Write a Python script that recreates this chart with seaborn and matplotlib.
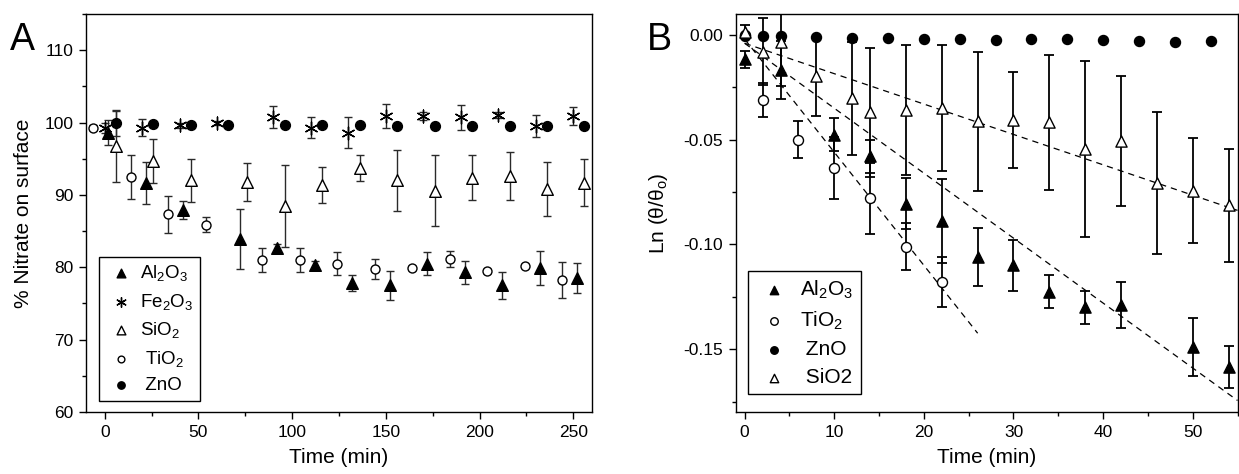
import numpy as np
import pandas as pd
import matplotlib
matplotlib.use("Agg")
import matplotlib.pyplot as plt
from matplotlib.ticker import MultipleLocator
import seaborn as sns

# Panel A: % nitrate left on the surface vs time (min)
al_t = [2, 22, 42, 72, 92, 112, 132, 152, 172, 192, 212, 232, 252]
al_y = [98.6, 91.7, 87.9, 83.9, 82.6, 80.3, 77.8, 77.5, 80.5, 79.3, 77.5, 79.9, 78.5]
al_e = [1.7, 2.9, 1.2, 4.1, 0.6, 0.6, 1.1, 2.0, 1.6, 1.6, 1.9, 2.3, 2.1]

fe_t = [0, 20, 40, 60, 90, 110, 130, 150, 170, 190, 210, 230, 250]
fe_y = [99.2, 99.3, 99.6, 99.9, 100.8, 99.3, 98.6, 100.9, 100.9, 100.7, 101.0, 99.5, 100.9]
fe_e = [0.7, 1.2, 0.3, 0.3, 1.5, 1.5, 2.1, 1.6, 0.5, 1.7, 0.4, 1.5, 1.2]

si_t = [6, 26, 46, 76, 96, 116, 136, 156, 176, 196, 216, 236, 256]
si_y = [96.7, 94.7, 92.0, 91.8, 88.5, 91.4, 93.7, 92.0, 90.6, 92.4, 92.6, 90.8, 91.7]
si_e = [4.9, 3.0, 3.0, 2.6, 5.7, 2.5, 1.8, 4.2, 4.9, 3.1, 3.3, 3.7, 3.3]

ti_t = [-6, 14, 34, 54, 84, 104, 124, 144, 164, 184, 204, 224, 244]
ti_y = [99.3, 92.5, 87.3, 85.9, 81.0, 81.0, 80.5, 79.8, 79.9, 81.1, 79.5, 80.2, 78.2]
ti_e = [0.3, 3.0, 2.6, 1.0, 1.6, 1.6, 1.6, 1.4, 0.3, 1.1, 0.3, 0.2, 2.5]

zn_t = [6, 26, 46, 66, 96, 116, 136, 156, 176, 196, 216, 236, 256]
zn_y = [99.9, 99.8, 99.7, 99.6, 99.6, 99.6, 99.6, 99.5, 99.5, 99.5, 99.5, 99.5, 99.5]
zn_e = [1.8, 0.2, 0.2, 0.2, 0.2, 0.2, 0.2, 0.2, 0.2, 0.2, 0.2, 0.2, 0.2]

# Panel B: Ln(theta/theta_o) vs time (min)
b_al_t = [0, 4, 10, 14, 18, 22, 26, 30, 34, 38, 42, 50, 54]
b_al_y = [-0.0116, -0.0167, -0.0476, -0.058, -0.0805, -0.0889, -0.106, -0.110, -0.1225,
          -0.130, -0.129, -0.149, -0.1587]
b_al_e = [0.004, 0.014, 0.008, 0.008, 0.012, 0.020, 0.014, 0.012, 0.008, 0.008, 0.011, 0.014, 0.010]

b_ti_t = [0, 2, 6, 10, 14, 18, 22]
b_ti_y = [0.0, -0.031, -0.050, -0.0635, -0.078, -0.101, -0.1178]
b_ti_e = [0.0, 0.008, 0.0087, 0.015, 0.017, 0.011, 0.012]

b_zn_t = [0, 2, 4, 8, 12, 16, 20, 24, 28, 32, 36, 40, 44, 48, 52]
b_zn_y = [-0.0005, -0.0005, -0.0005, -0.001, -0.0014, -0.0014, -0.0019, -0.0019, -0.0024,
          -0.0021, -0.0019, -0.0024, -0.0027, -0.0032, -0.003]

b_si_t = [0, 2, 4, 8, 12, 14, 18, 22, 26, 30, 34, 38, 42, 46, 50, 54]
b_si_y = [0.0016, -0.008, -0.0032, -0.0198, -0.0302, -0.037, -0.0357, -0.0349, -0.0413,
          -0.0405, -0.0418, -0.0543, -0.0505, -0.0706, -0.0743, -0.0814]
b_si_e = [0.003, 0.016, 0.021, 0.019, 0.027, 0.031, 0.031, 0.030, 0.033, 0.023, 0.032,
          0.042, 0.031, 0.034, 0.025, 0.027]

# linear fits drawn as dashed lines (TiO2, Al2O3, SiO2)
fit_slope = [-0.0054, -0.0031, -0.00145]
fit_icpt = [-0.002, -0.004, -0.004]
fit_tmax = [26, 55, 55]

sns.set_style("ticks")
plt.rcParams["font.family"] = ["Liberation Sans", "DejaVu Sans"]
plt.rcParams["mathtext.default"] = "regular"
plt.rcParams["axes.linewidth"] = 1.0
plt.rcParams["axes.edgecolor"] = "black"
plt.rcParams["text.color"] = "black"
plt.rcParams["axes.labelcolor"] = "black"
plt.rcParams["xtick.color"] = "black"
plt.rcParams["ytick.color"] = "black"

fig = plt.figure(figsize=(12.39, 4.74), dpi=100)
axA = fig.add_axes([0.0694, 0.1308, 0.4084, 0.8397])
axB = fig.add_axes([0.5938, 0.1308, 0.4050, 0.8397])


def series(ax, t, y, e, marker, face, s, label, ecol, elw, cap):
    if e is not None:
        ax.errorbar(t, y, yerr=e, fmt="none", ecolor=ecol, elinewidth=elw,
                    capsize=cap, capthick=elw, zorder=2)
    if face is None:
        sns.scatterplot(x=t, y=y, marker=marker, s=s, color="black",
                        linewidth=1.0, label=label, ax=ax, zorder=3)
    else:
        sns.scatterplot(x=t, y=y, marker=marker, s=s, color=face,
                        edgecolor="black", linewidth=1.0, label=label, ax=ax, zorder=3)


# ---- Panel A ----
ec = "#2a2a2a"
series(axA, al_t, al_y, al_e, "^", "black", 70, "Al$_2$O$_3$", ec, 1.0, 3)
series(axA, fe_t, fe_y, fe_e, (6, 2, 0), None, 85, "Fe$_2$O$_3$", ec, 1.0, 3)
series(axA, si_t, si_y, si_e, "^", "white", 70, "SiO$_2$", ec, 1.0, 3)
series(axA, ti_t, ti_y, ti_e, "o", "white", 42, " TiO$_2$", ec, 1.0, 3)
series(axA, zn_t, zn_y, zn_e, "o", "black", 50, " ZnO", ec, 1.0, 3)

axA.set_xlim(-10, 260)
axA.set_ylim(60, 115)
axA.xaxis.set_major_locator(MultipleLocator(50))
axA.xaxis.set_minor_locator(MultipleLocator(25))
axA.yaxis.set_minor_locator(MultipleLocator(5))
axA.set_yticks([60, 70, 80, 90, 100, 110])
axA.set_xlabel("Time (min)", fontsize=15, labelpad=6)
axA.set_ylabel("% Nitrate on surface", fontsize=15, labelpad=8)
axA.legend(loc="lower left", bbox_to_anchor=(0.026, 0.028), borderaxespad=0,
           fontsize=13.5, frameon=True, fancybox=False, edgecolor="black",
           framealpha=1, markerscale=0.75, handlelength=1.6, handletextpad=0.25,
           labelspacing=0.45, borderpad=0.35)

# ---- Panel B ----
for k in range(3):
    tt = np.array([0, fit_tmax[k]])
    sns.lineplot(x=tt, y=fit_icpt[k] + fit_slope[k] * tt, ax=axB, color="black",
                 linewidth=0.9, linestyle=(0, (5, 4)), zorder=1)

series(axB, b_al_t, b_al_y, b_al_e, "^", "black", 65, "Al$_2$O$_3$", "black", 1.3, 3.5)
series(axB, b_ti_t, b_ti_y, b_ti_e, "o", "white", 52, "TiO$_2$", "black", 1.3, 3.5)
series(axB, b_zn_t, b_zn_y, None, "o", "black", 52, " ZnO", "black", 1.3, 3.5)
series(axB, b_si_t, b_si_y, b_si_e, "^", "white", 65, " SiO2", "black", 1.3, 3.5)

axB.set_xlim(-1, 55)
axB.set_ylim(-0.18, 0.01)
axB.xaxis.set_major_locator(MultipleLocator(10))
axB.xaxis.set_minor_locator(MultipleLocator(5))
axB.set_yticks([-0.15, -0.10, -0.05, 0.0])
axB.yaxis.set_minor_locator(MultipleLocator(0.025))
axB.yaxis.set_major_formatter(matplotlib.ticker.FormatStrFormatter("%.2f"))
axB.set_xlabel("Time (min)", fontsize=15, labelpad=6)
axB.set_ylabel("Ln (θ/θ$_o$)", fontsize=15, labelpad=10)
axB.legend(loc="lower left", bbox_to_anchor=(0.025, 0.044), borderaxespad=0,
           fontsize=15, frameon=True, fancybox=False, edgecolor="black",
           framealpha=1, markerscale=0.75, handlelength=1.8, handletextpad=0.35,
           labelspacing=0.42, borderpad=0.35)

for ax in (axA, axB):
    for sp in ax.spines.values():
        sp.set_visible(True)
        sp.set_color("black")
        sp.set_linewidth(1.0)
    ax.tick_params(which="major", direction="out", length=5, width=1, labelsize=12.5,
                   pad=4, colors="black")
    ax.tick_params(which="minor", direction="out", length=3, width=1)
    ax.tick_params(top=False, right=False, which="both")

fig.text(0.008, 0.894, "A", fontsize=27)
fig.text(0.522, 0.894, "B", fontsize=27)

fig.savefig("out.png", dpi=100)
